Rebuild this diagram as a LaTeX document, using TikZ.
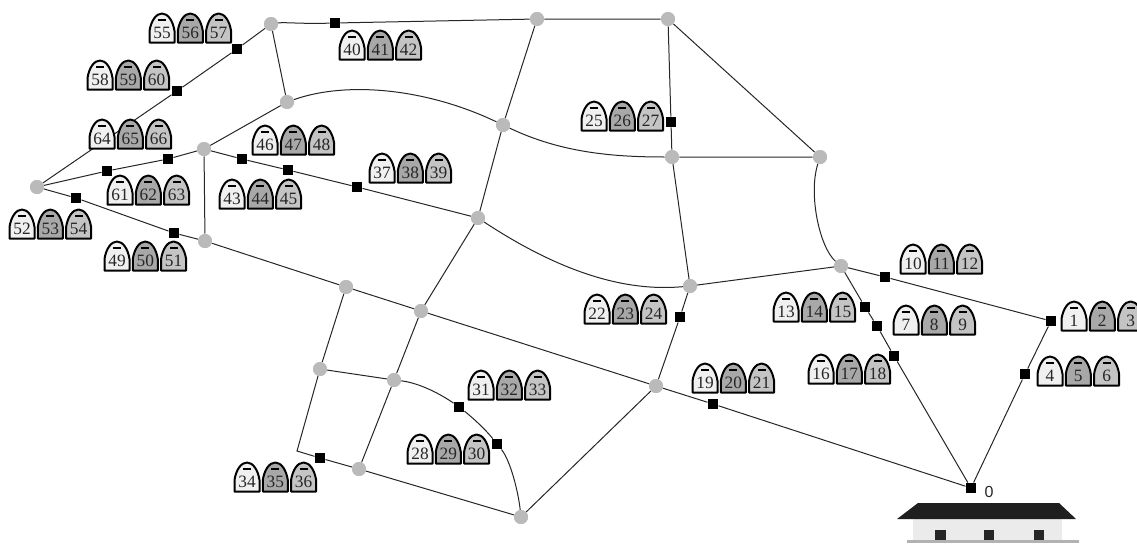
\documentclass[tikz,border=0pt]{standalone}
\usepackage{fontspec}
\setmainfont{Liberation Serif}
\newfontfamily\sansf{Liberation Sans}
\definecolor{iconA}{gray}{0.94}
\definecolor{iconB}{gray}{0.66}
\definecolor{iconC}{gray}{0.77}
\tikzset{
  junction/.style={circle,fill=black!27,draw=none,minimum size=10.5pt,inner sep=0pt},
  stop/.style={rectangle,fill=black,draw=none,minimum size=7.8pt,inner sep=0pt},
  road/.style={draw=black!85,line width=0.75pt},
  iconshape/.style={draw=black,line width=1.5pt,line join=round},
  iconnum/.style={font=\fontsize{13pt}{13pt}\selectfont,inner sep=0pt,text=black!85},
}
\newcommand{\oneicon}[4]{%
  \begin{scope}[shift={(#1,#2)}]
    \path[iconshape,fill=#3] (0.5,29.5) -- (0.5,18) .. controls (2,8) and (7,0.5) .. (13,0.5) .. controls (19,0.5) and (24,8) .. (25.5,18) -- (25.5,29.5) -- cycle;
    \fill[black] (9,6.2) rectangle (17,8);
    \node[iconnum] (ic#4) at (13,19.5) {#4};
  \end{scope}}
\newcommand{\icongroup}[5]{%
  \oneicon{#1}{#2}{iconA}{#3}\oneicon{#1+28.3}{#2}{iconB}{#4}\oneicon{#1+56.6}{#2}{iconC}{#5}}
\begin{document}
\begin{tikzpicture}[x=0.75pt,y=-0.75pt]
\useasboundingbox (0,0) rectangle (1137,543);
\clip (0,0) rectangle (1137,543);
% junctions
\node[junction] (a) at (271,24) {};
\node[junction] (b) at (537,19) {};
\node[junction] (c) at (668,19) {};
\node[junction] (d) at (287,102) {};
\node[junction] (e) at (503,125) {};
\node[junction] (f) at (672,157) {};
\node[junction] (g) at (820,157) {};
\node[junction] (h) at (204,149) {};
\node[junction] (i) at (37,187) {};
\node[junction] (j) at (205,241) {};
\node[junction] (k) at (478,218) {};
\node[junction] (l) at (690,286) {};
\node[junction] (m) at (841,266) {};
\node[junction] (n) at (346,287) {};
\node[junction] (o) at (421,311) {};
\node[junction] (p) at (320,369) {};
\node[junction] (q) at (394,380) {};
\node[junction] (r) at (656,386) {};
\node[junction] (s) at (359,469) {};
\node[junction] (t) at (521,517) {};
% stops
\node[stop] (z) at (971,488) {};
\node[stop] (s1) at (1051,321) {};
\node[stop] (s4) at (1025,374) {};
\node[stop] (s10) at (885,277) {};
\node[stop] (s13) at (865,307) {};
\node[stop] (s7) at (877,326) {};
\node[stop] (s16) at (894,356) {};
\node[stop] (s19) at (713,404) {};
\node[stop] (s22) at (680,317) {};
\node[stop] (s25) at (671,122) {};
\node[stop] (s40) at (335,23) {};
\node[stop] (s55) at (237,49) {};
\node[stop] (s58) at (177,91) {};
\node[stop] (s61a) at (168,159) {};
\node[stop] (s61b) at (107,171) {};
\node[stop] (s52) at (76,198) {};
\node[stop] (s49) at (174,233) {};
\node[stop] (s46) at (242,159) {};
\node[stop] (s43) at (288,170) {};
\node[stop] (s37) at (357,187) {};
\node[stop] (s31) at (459,407) {};
\node[stop] (s28) at (497,444) {};
\node[stop] (s34) at (320,458) {};
\coordinate (w) at (297,451);
% roads
\begin{scope}[on background layer/.style={}]
\draw[road] (a) -- (s55) -- (s58) -- (i);
\draw[road] (a) .. controls (285,22) and (300,24) .. (s40) -- (b) -- (c) -- (g);
\draw[road] (c) -- (s25) -- (f) -- (g);
\draw[road] (a) -- (d) -- (h);
\draw[road] (d) .. controls (350,80) and (430,90) .. (e);
\draw[road] (e) .. controls (560,152) and (610,157) .. (f);
\draw[road] (b) -- (e) -- (k) -- (o) -- (q) -- (s) -- (t);
\draw[road] (h) -- (s61a) -- (s61b) -- (i) -- (s52) -- (s49) -- (j) -- (h);
\draw[road] (h) -- (s46) -- (s43) -- (s37) -- (k);
\draw[road] (k) .. controls (560,272) and (625,292) .. (l);
\draw[road] (f) -- (l) -- (m);
\draw[road] (g) .. controls (808,195) and (820,248) .. (m);
\draw[road] (m) -- (s10) -- (s1) -- (s4) -- (z);
\draw[road] (m) -- (s13) -- (s7) -- (s16) -- (z);
\draw[road] (j) -- (n) -- (o) -- (r) -- (s19) -- (z);
\draw[road] (l) -- (s22) -- (r) -- (t);
\draw[road] (n) -- (p) -- (q);
\draw[road] (p) -- (w) -- (s34) -- (s);
\draw[road] (q) .. controls (420,383) and (442,395) .. (s31) .. controls (472,417) and (486,430) .. (s28) .. controls (510,460) and (518,490) .. (t);
\end{scope}
% redraw junctions and stops above the roads
\foreach \nm/\cx/\cy in {a/271/24,b/537/19,c/668/19,d/287/102,e/503/125,f/672/157,g/820/157,h/204/149,i/37/187,j/205/241,k/478/218,l/690/286,m/841/266,n/346/287,o/421/311,p/320/369,q/394/380,r/656/386,s/359/469,t/521/517}
  {\fill[black!27] (\cx,\cy) circle (5.25pt);}
\foreach \cx/\cy in {971/488,1051/321,1025/374,885/277,865/307,877/326,894/356,713/404,680/317,671/122,335/23,237/49,177/91,168/159,107/171,76/198,174/233,242/159,288/170,357/187,459/407,497/444,320/458}
  {\fill[black] (\cx-5,\cy-5) rectangle (\cx+5,\cy+5);}
% icons
\icongroup{1061}{301}{1}{2}{3}
\icongroup{1037}{356}{4}{5}{6}
\icongroup{893}{305}{7}{8}{9}
\icongroup{900}{244}{10}{11}{12}
\icongroup{773}{292}{13}{14}{15}
\icongroup{808}{354}{16}{17}{18}
\icongroup{692}{363}{19}{20}{21}
\icongroup{584}{294}{22}{23}{24}
\icongroup{581}{101}{25}{26}{27}
\icongroup{407}{434}{28}{29}{30}
\icongroup{468}{370}{31}{32}{33}
\icongroup{234}{462}{34}{35}{36}
\icongroup{369}{153}{37}{38}{39}
\icongroup{339}{30}{40}{41}{42}
\icongroup{219}{179}{43}{44}{45}
\icongroup{252}{125}{46}{47}{48}
\icongroup{104}{241}{49}{50}{51}
\icongroup{9}{209}{52}{53}{54}
\icongroup{149}{13}{55}{56}{57}
\icongroup{87}{60}{58}{59}{60}
\icongroup{107}{175}{61}{62}{63}
\icongroup{89}{119}{64}{65}{66}
% depot
\node[font=\sansf\fontsize{12pt}{12pt}\selectfont,inner sep=0pt,text=black!85] (zlabel) at (989,492) {0};
\fill[black!8] (913,519) rectangle (1062,541);
\fill[black!88] (918,503) -- (1059,503) -- (1076,519) -- (897,519) -- cycle;
\fill[black!85] (935,530) rectangle (946,540);
\fill[black!85] (984,530) rectangle (994,540);
\fill[black!85] (1034,530) rectangle (1044,540);
\fill[black!30] (907,540) rectangle (1079,543);
\end{tikzpicture}
\end{document}
